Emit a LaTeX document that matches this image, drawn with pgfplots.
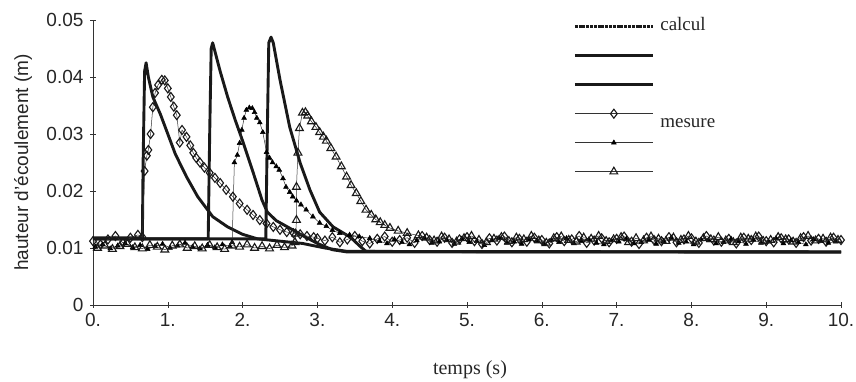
\documentclass[border=0pt]{standalone}
\usepackage{fontspec}
\setmainfont{Liberation Sans}
\newfontfamily\seriffont{Liberation Serif}
\usepackage{pgfplots}
\pgfplotsset{compat=1.18}
\begin{document}
\begin{tikzpicture}
\useasboundingbox (-93pt,-77pt) rectangle (763pt,305pt);
\begin{axis}[
  scale only axis, width=748pt, height=285pt,
  xmin=0, xmax=10, ymin=0, ymax=0.05,
  axis lines=left, axis line style={-, line width=0.6pt, black!80},
  xtick={0,1,2,3,4,5,6,7,8,9,10},
  xticklabels={0.,1.,2.,3.,4.,5.,6.,7.,8.,9.,10.},
  ytick={0,0.01,0.02,0.03,0.04,0.05},
  yticklabels={0,0.01,0.02,0.03,0.04,0.05},
  scaled y ticks=false, scaled x ticks=false,
  /pgf/number format/assume math mode=true,
  tick align=center, major tick length=6pt,
  tick style={black!80, line width=0.6pt},
  ticklabel style={font=\fontsize{19}{21}\selectfont, text=black!85},
  xticklabel style={yshift=-2pt},
  yticklabel style={xshift=-3pt},
  every axis y label/.style={at={(axis description cs:-0.0936,0.5)},rotate=90,anchor=center,font=\fontsize{19}{21}\selectfont,text=black!85},
  every axis x label/.style={at={(axis description cs:0.504,-0.228)},anchor=center,font=\seriffont\fontsize{20}{22}\selectfont,text=black!85},
  ylabel={hauteur d'écoulement (m)},
  xlabel={temps (s)},
  clip=false,
  legend cell align=left,
  legend style={draw=none, fill=none, at={(axis description cs:0.642,1.0)}, anchor=north west,
    font=\seriffont\fontsize{19}{21}\selectfont, inner sep=0pt, row sep=16pt,
    nodes={inner sep=0pt, text height=10pt, text depth=3pt, text=black!85},
    /tikz/column sep=6pt},
  legend image code/.code={\draw[mark repeat=2,mark phase=2,#1] plot coordinates {(0pt,0pt) (39pt,0pt) (78pt,0pt)};},
  calc/.style={black!90, line width=2.9pt, no markers, line join=round},
  meas/.style={black!80, line width=0.5pt},
]
% ---------- calcul ----------
\addlegendimage{calc, dash pattern=on 3pt off 0.8pt}
\addlegendentry{calcul}
\addplot[calc, forget plot] coordinates {
(0,0.0118)(0.66,0.0118)(0.67,0.025)(0.69,0.041)(0.71,0.0425)(0.74,0.040)(0.80,0.0365)(0.90,0.0335)(1.00,0.030)(1.10,0.0265)(1.25,0.0225)(1.40,0.019)(1.60,0.0155)(1.80,0.0137)(2.00,0.0124)(2.20,0.0116)(2.50,0.0112)(2.80,0.0108)(3.10,0.0100)(3.40,0.0094)(10,0.0093)};
\addplot[calc] coordinates {
(0,0.0116)(1.54,0.0116)(1.56,0.030)(1.58,0.045)(1.60,0.046)(1.63,0.0445)(1.70,0.041)(1.80,0.0365)(1.90,0.0325)(2.00,0.0288)(2.13,0.0237)(2.26,0.0184)(2.33,0.0163)(2.45,0.0148)(2.60,0.0137)(2.80,0.0122)(3.00,0.0108)(3.20,0.0097)(3.40,0.0093)(10,0.0093)};
\addlegendentry{\mbox{}}
\addplot[calc] coordinates {
(0,0.0116)(2.31,0.0116)(2.33,0.030)(2.35,0.046)(2.38,0.047)(2.41,0.046)(2.50,0.0395)(2.63,0.0312)(2.77,0.0249)(2.90,0.0202)(3.03,0.0163)(3.21,0.0137)(3.44,0.0119)(3.57,0.0103)(3.65,0.0094)(10,0.0093)};
\addlegendentry{\mbox{}}
% ---------- mesure ----------
\addplot[meas, mark=diamond, mark size=4.5pt, mark options={solid, fill=white, draw=black!90, line width=1.1pt}] coordinates {
(0.00,0.0112)(0.10,0.0106)(0.20,0.0115)(0.30,0.0121)(0.40,0.0109)(0.50,0.0118)(0.60,0.0123)(0.66,0.0119)
(0.69,0.0235)(0.72,0.0262)(0.74,0.0272)(0.77,0.0300)(0.80,0.0347)(0.83,0.0372)(0.87,0.0386)(0.92,0.0395)(0.96,0.0394)(1.00,0.0380)(1.04,0.0365)(1.08,0.0348)(1.12,0.0333)(1.16,0.0285)(1.19,0.0307)(1.25,0.0295)(1.30,0.0280)(1.34,0.0267)(1.38,0.0258)(1.43,0.0250)(1.49,0.0241)(1.56,0.0232)(1.63,0.0223)(1.70,0.0214)(1.78,0.0202)(1.87,0.0190)(1.96,0.0178)(2.06,0.0167)(2.14,0.0158)(2.23,0.0149)(2.32,0.0143)(2.41,0.0137)(2.50,0.0132)(2.59,0.0128)(2.68,0.0126)(2.77,0.0124)(2.86,0.0121)(2.95,0.0119)
(3.0,0.0117)(3.1,0.0113)(3.2,0.0119)(3.3,0.0110)(3.4,0.0115)(3.5,0.0121)(3.6,0.0112)(3.7,0.0108)(3.8,0.0116)(3.9,0.0120)
(4.0,0.0111)(4.1,0.0114)(4.2,0.0118)(4.3,0.0109)(4.4,0.0121)(4.5,0.0114)(4.6,0.0111)(4.7,0.0118)(4.8,0.0109)(4.9,0.0115)
(5.0,0.0119)(5.1,0.0112)(5.2,0.0107)(5.3,0.0117)(5.4,0.0113)(5.5,0.0120)(5.6,0.0110)(5.7,0.0116)(5.8,0.0111)(5.9,0.0118)
(6.0,0.0114)(6.1,0.0108)(6.2,0.0119)(6.3,0.0112)(6.4,0.0115)(6.5,0.0121)(6.6,0.0109)(6.7,0.0113)(6.8,0.0117)(6.9,0.0110)
(7.0,0.0116)(7.1,0.0120)(7.2,0.0111)(7.3,0.0107)(7.4,0.0118)(7.5,0.0114)(7.6,0.0112)(7.7,0.0119)(7.8,0.0110)(7.9,0.0115)
(8.0,0.0117)(8.1,0.0109)(8.2,0.0121)(8.3,0.0113)(8.4,0.0111)(8.5,0.0116)(8.6,0.0108)(8.7,0.0118)(8.8,0.0114)(8.9,0.0120)
(9.0,0.0112)(9.1,0.0110)(9.2,0.0117)(9.3,0.0115)(9.4,0.0109)(9.5,0.0119)(9.6,0.0113)(9.7,0.0116)(9.8,0.0111)(9.9,0.0118)(10.0,0.0114)};
\addlegendentry{\raisebox{-10pt}{mesure}}
\addplot[meas, mark=triangle*, mark size=2.8pt, mark options={solid, fill=black, draw=black}] coordinates {
(0.03,0.0102)(0.13,0.0106)(0.23,0.0099)(0.33,0.0104)(0.43,0.0108)(0.53,0.0101)(0.63,0.0105)(0.73,0.0098)(0.83,0.0103)(0.93,0.0107)
(1.03,0.0100)(1.13,0.0104)(1.23,0.0109)(1.33,0.0102)(1.43,0.0099)(1.53,0.0105)(1.63,0.0101)(1.73,0.0106)(1.83,0.0103)
(1.86,0.0110)(1.89,0.0250)(1.93,0.0263)(1.96,0.0284)(1.99,0.0307)(2.02,0.0328)(2.05,0.0342)(2.09,0.0346)(2.13,0.0345)(2.16,0.0338)(2.19,0.0328)(2.23,0.0320)(2.27,0.0303)(2.32,0.0268)(2.36,0.0258)(2.40,0.0250)(2.45,0.0243)(2.49,0.0237)(2.54,0.0222)(2.58,0.0207)(2.63,0.0198)(2.67,0.0190)(2.72,0.0183)(2.78,0.0176)(2.85,0.0167)(2.94,0.0155)(3.03,0.0144)(3.12,0.0138)(3.20,0.0131)(3.30,0.0126)(3.43,0.0123)(3.56,0.0120)(3.70,0.0117)
(3.83,0.0112)(3.93,0.0108)(4.03,0.0115)(4.13,0.0110)(4.23,0.0106)(4.33,0.0113)(4.43,0.0117)(4.53,0.0109)(4.63,0.0111)(4.73,0.0114)
(4.83,0.0107)(4.93,0.0116)(5.03,0.0110)(5.13,0.0112)(5.23,0.0105)(5.33,0.0113)(5.43,0.0118)(5.53,0.0109)(5.63,0.0111)(5.73,0.0107)
(5.83,0.0115)(5.93,0.0112)(6.03,0.0106)(6.13,0.0114)(6.23,0.0110)(6.33,0.0117)(6.43,0.0108)(6.53,0.0112)(6.63,0.0115)(6.73,0.0109)
(6.83,0.0106)(6.93,0.0113)(7.03,0.0111)(7.13,0.0116)(7.23,0.0108)(7.33,0.0110)(7.43,0.0114)(7.53,0.0107)(7.63,0.0112)(7.73,0.0118)
(7.83,0.0109)(7.93,0.0111)(8.03,0.0106)(8.13,0.0115)(8.23,0.0113)(8.33,0.0108)(8.43,0.0110)(8.53,0.0116)(8.63,0.0112)(8.73,0.0107)
(8.83,0.0114)(8.93,0.0109)(9.03,0.0111)(9.13,0.0117)(9.23,0.0108)(9.33,0.0113)(9.43,0.0110)(9.53,0.0106)(9.63,0.0115)(9.73,0.0112)
(9.83,0.0109)(9.93,0.0111)};
\addlegendentry{\mbox{}}
\addplot[meas, mark=triangle, mark size=4.5pt, mark options={solid, fill=white, draw=black!90, line width=1.1pt}] coordinates {
(0.06,0.0100)(0.16,0.0104)(0.26,0.0098)(0.36,0.0103)(0.46,0.0107)(0.56,0.0101)(0.66,0.0099)(0.76,0.0105)(0.86,0.0102)(0.96,0.0097)
(1.06,0.0104)(1.16,0.0106)(1.26,0.0100)(1.36,0.0103)(1.46,0.0099)(1.56,0.0105)(1.66,0.0101)(1.76,0.0098)(1.86,0.0104)(1.96,0.0102)
(2.06,0.0106)(2.16,0.0100)(2.26,0.0103)(2.36,0.0099)(2.46,0.0105)(2.56,0.0101)(2.66,0.0104)
(2.70,0.0110)(2.71,0.0125)(2.72,0.0149)(2.72,0.0207)(2.74,0.0267)(2.76,0.0310)(2.80,0.0337)(2.84,0.0338)(2.87,0.0332)(2.92,0.0322)(2.98,0.0312)(3.03,0.0303)(3.08,0.0295)(3.12,0.0288)(3.18,0.0275)(3.25,0.0260)(3.32,0.0243)(3.39,0.0225)(3.45,0.0210)(3.52,0.0196)(3.58,0.0182)(3.65,0.0167)(3.72,0.0158)(3.78,0.0150)(3.84,0.0145)(3.90,0.0140)(3.97,0.0135)(4.08,0.0130)(4.20,0.0126)(4.35,0.0122)
(4.46,0.0118)(4.56,0.0113)(4.66,0.0120)(4.76,0.0115)(4.86,0.0111)(4.96,0.0117)(5.06,0.0121)(5.16,0.0114)(5.26,0.0110)(5.36,0.0116)
(5.46,0.0119)(5.56,0.0112)(5.66,0.0118)(5.76,0.0115)(5.86,0.0121)(5.96,0.0113)(6.06,0.0109)(6.16,0.0117)(6.26,0.0120)(6.36,0.0114)
(6.46,0.0111)(6.56,0.0118)(6.66,0.0116)(6.76,0.0121)(6.86,0.0112)(6.96,0.0115)(7.06,0.0119)(7.16,0.0110)(7.26,0.0117)(7.36,0.0113)
(7.46,0.0120)(7.56,0.0116)(7.66,0.0112)(7.76,0.0118)(7.86,0.0114)(7.96,0.0121)(8.06,0.0111)(8.16,0.0117)(8.26,0.0115)(8.36,0.0119)
(8.46,0.0113)(8.56,0.0110)(8.66,0.0118)(8.76,0.0116)(8.86,0.0120)(8.96,0.0112)(9.06,0.0114)(9.16,0.0119)(9.26,0.0115)(9.36,0.0111)
(9.46,0.0117)(9.56,0.0121)(9.66,0.0113)(9.76,0.0116)(9.86,0.0118)(9.96,0.0114)};
\addlegendentry{\mbox{}}
\end{axis}
\end{tikzpicture}
\end{document}
